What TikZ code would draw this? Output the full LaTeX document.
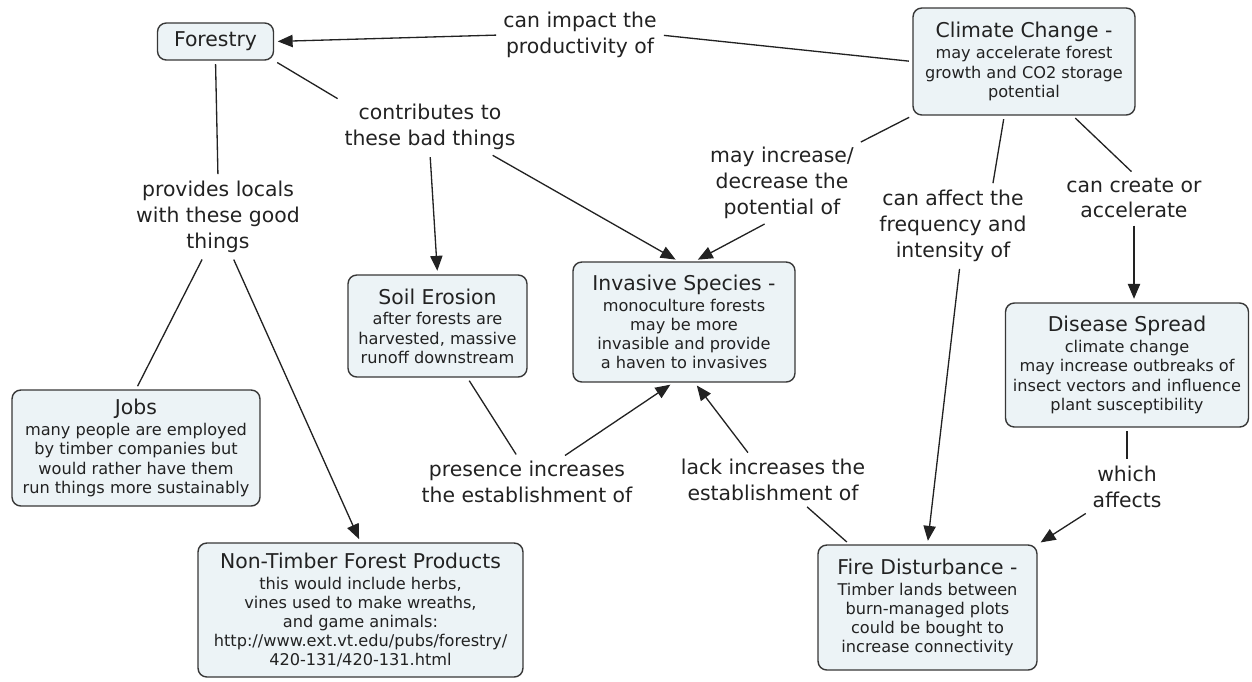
\documentclass[tikz,border=0pt]{standalone}
\usepackage{fontspec}
\setmainfont{DejaVu Sans}
\usetikzlibrary{arrows.meta}

\definecolor{boxfill}{RGB}{236,243,246}
\definecolor{boxline}{RGB}{55,55,55}
\definecolor{inkgray}{RGB}{34,34,34}
\newcommand{\ttlfont}{\fontsize{11.6}{13}\selectfont}
\newcommand{\txtfont}{\fontsize{9.2}{10.9}\selectfont}

\tikzset{
  concept/.style={draw=boxline, fill=boxfill, line width=0.8pt, rounded corners=5pt,
    align=center, text=inkgray, font=\txtfont, inner sep=1pt},
  phrase/.style={align=center, text=inkgray, font=\fontsize{11.6}{14.6}\selectfont, inner sep=2pt},
  link/.style={draw=inkgray, line width=0.75pt, shorten <=2pt, shorten >=2pt},
  linkarrow/.style={link, -{Triangle[length=8.5pt, width=7pt]}}
}

\begin{document}
\begin{tikzpicture}[x=0.02cm, y=-0.02cm]
\useasboundingbox (0,0) rectangle (1252,681);
% Concepts
\node[concept, minimum width=2.32cm, minimum height=0.74cm] (forestry) at (215.5,41.5) {{\ttlfont Forestry}};
\node[concept, minimum width=4.44cm, minimum height=2.14cm] (climate) at (1024,61.5)
  {{\ttlfont Climate Change -}\\[1pt] may accelerate forest\\ growth and CO2 storage\\ potential};
\node[concept, minimum width=3.58cm, minimum height=2.04cm] (soil) at (437.5,326)
  {{\ttlfont Soil Erosion}\\[1pt] after forests are\\ harvested, massive\\ runoff downstream};
\node[concept, minimum width=4.44cm, minimum height=2.4cm] (invasive) at (684,322)
  {{\ttlfont Invasive Species -}\\[1pt] monoculture forests\\ may be more\\ invasible and provide\\ a haven to invasives};
\node[concept, minimum width=4.86cm, minimum height=2.48cm] (disease) at (1127,365)
  {{\ttlfont Disease Spread}\\[1pt] climate change\\ may increase outbreaks of\\ insect vectors and influence\\ plant susceptibility};
\node[concept, minimum width=4.96cm, minimum height=2.32cm] (jobs) at (136,448)
  {{\ttlfont Jobs}\\[1pt] many people are employed\\ by timber companies but\\ would rather have them\\ run things more sustainably};
\node[concept, minimum width=6.5cm, minimum height=2.68cm] (ntfp) at (360.5,610)
  {{\ttlfont Non-Timber Forest Products}\\[1pt] this would include herbs,\\ vines used to make wreaths,\\ and game animals:\\ http://www.ext.vt.edu/pubs/forestry/\\ 420-131/420-131.html};
\node[concept, minimum width=4.38cm, minimum height=2.5cm] (fire) at (927.5,607.5)
  {{\ttlfont Fire Disturbance -}\\[1pt] Timber lands between\\ burn-managed plots\\ could be bought to\\ increase connectivity};
% Linking phrases
\node[phrase] (impact) at (580,35) {can impact the\\ productivity of};
\node[phrase] (contrib) at (430,127) {contributes to\\ these bad things};
\node[phrase] (provides) at (218,217) {provides locals\\ with these good\\ things};
\node[phrase] (mayinc) at (782,183) {may increase/\\ decrease the\\ potential of};
\node[phrase] (affect) at (953,226) {can affect the\\ frequency and\\ intensity of};
\node[phrase] (create) at (1134,198) {can create or\\ accelerate};
\node[phrase] (presence) at (527,482) {presence increases\\ the establishment of};
\node[phrase] (lack) at (773,480) {lack increases the\\ establishment of};
\node[phrase] (which) at (1127,487) {which\\ affects};
% Connectors
\draw[link] (climate.west) -- (impact.east);
\draw[linkarrow] (impact.west) -- (forestry.east);
\draw[link] (forestry.south east) -- (contrib.north west);
\draw[linkarrow] (contrib.south) -- (soil.north);
\draw[linkarrow] (contrib.-24) -- (invasive.95);
\draw[link] (climate.south west) -- (mayinc.north east);
\draw[linkarrow] (mayinc.-110) -- (invasive.80);
\draw[link] (climate.-110) -- (affect.45);
\draw[linkarrow] (affect.-80) -- (fire.north);
\draw[link] (climate.-48) -- (create.north);
\draw[linkarrow] (create.south) -- (create.south |- disease.north);
\draw[link] (forestry.south) -- (provides.north);
\draw[link] (provides.-110) -- (jobs.north);
\draw[linkarrow] (provides.-70) -- (ntfp.north);
\draw[link] (soil.-60) -- (presence.110);
\draw[linkarrow] (presence.35) -- (invasive.-100);
\draw[link] (fire.141) -- (lack.-38);
\draw[linkarrow] (lack.133) -- (invasive.-80);
\draw[link] (disease.south) -- (which.north);
\draw[linkarrow] (which.south west) -- (fire.north east);
\end{tikzpicture}
\end{document}
